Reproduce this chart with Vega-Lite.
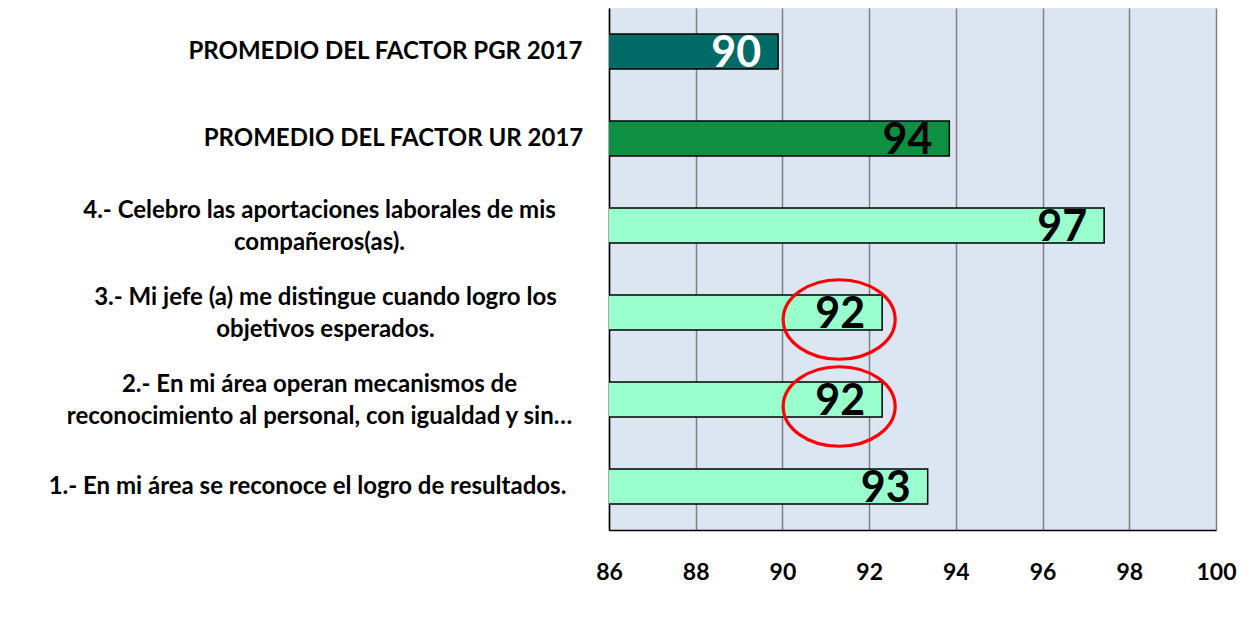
{
  "$schema": "https://vega.github.io/schema/vega-lite/v6.json",
  "width": 607,
  "height": 522,
  "autosize": {"type": "none"},
  "padding": {"left": 609, "top": 8, "right": 31, "bottom": 91},
  "background": "white",
  "config": {"view": {"fill": "#DCE6F2", "stroke": null}, "font": "Lato"},
  "data": {
    "values": [
      {"label": "PROMEDIO DEL FACTOR PGR 2017", "value": 89.9, "group": "PGR"},
      {"label": "PROMEDIO DEL FACTOR UR 2017", "value": 93.85, "group": "UR"},
      {"label": "4.- Celebro las aportaciones laborales de mis|compañeros(as).", "value": 97.42, "group": "Reactivo"},
      {"label": "3.- Mi jefe (a) me distingue cuando logro los|objetivos esperados.", "value": 92.3, "group": "Reactivo"},
      {"label": "2.- En mi área operan mecanismos de|reconocimiento al personal, con igualdad y sin…", "value": 92.3, "group": "Reactivo"},
      {"label": "1.- En mi área se reconoce el logro de resultados.", "value": 93.35, "group": "Reactivo"}
    ]
  },
  "encoding": {
    "y": {
      "field": "label",
      "type": "nominal",
      "sort": null,
      "scale": {"paddingInner": 0.6, "paddingOuter": 0.3},
      "axis": {
        "orient": "left",
        "title": null,
        "domain": true,
        "domainColor": "#000000",
        "domainWidth": 1.5,
        "ticks": false,
        "tickSize": 0,
        "grid": false,
        "labelExpr": "split(datum.label, '|')",
        "labelAlign": "center",
        "labelBaseline": "middle",
        "labelFontSize": 24,
        "labelFontWeight": "bold",
        "labelColor": "#000000",
        "labelLineHeight": 32,
        "labelLimit": 0,
        "labelOffset": {"condition": {"test": "indexof(datum.value,'|')>=0", "value": -15}, "value": 0},
        "labelPadding": {
          "condition": [
            {"test": "indexof(datum.value,'PGR')>=0", "value": 224},
            {"test": "indexof(datum.value,'UR 2017')>=0", "value": 216},
            {"test": "indexof(datum.value,'4.-')==0", "value": 290},
            {"test": "indexof(datum.value,'3.-')==0", "value": 284},
            {"test": "indexof(datum.value,'2.-')==0", "value": 290}
          ],
          "value": 302
        }
      }
    },
    "x": {
      "field": "value",
      "type": "quantitative",
      "scale": {"domain": [86, 100], "nice": false, "zero": false},
      "axis": {
        "orient": "bottom",
        "title": null,
        "values": [86, 88, 90, 92, 94, 96, 98, 100],
        "grid": true,
        "gridColor": "#808080",
        "gridWidth": 1.5,
        "domain": true,
        "domainColor": "#000000",
        "domainWidth": 1.5,
        "ticks": false,
        "labelFontSize": 23,
        "labelFontWeight": "bold",
        "labelColor": "#000000",
        "labelPadding": 31,
        "labelFlush": false,
        "labelBaseline": "top"
      }
    }
  },
  "layer": [
    {
      "mark": {"type": "bar", "stroke": "#000000", "strokeWidth": 1.5, "clip": true},
      "encoding": {
        "color": {
          "field": "group",
          "type": "nominal",
          "legend": null,
          "scale": {"domain": ["PGR", "UR", "Reactivo"], "range": ["#006A66", "#0E9043", "#99FFCC"]}
        }
      }
    },
    {
      "mark": {"type": "text", "align": "right", "baseline": "middle", "dx": -17, "dy": 2, "fontSize": 43, "fontWeight": "bold"},
      "encoding": {
        "text": {"field": "value", "type": "quantitative", "format": ".0f"},
        "color": {"condition": {"test": "datum.group == 'PGR'", "value": "#FFFFFF"}, "value": "#000000"}
      }
    },
    {
      "transform": [{"filter": "indexof(datum.label,'3.-')==0 || indexof(datum.label,'2.-')==0"}],
      "mark": {
        "type": "point",
        "shape": "M-1,0A1,0.71,0,1,1,1,0A1,0.71,0,1,1,-1,0Z",
        "size": 12544,
        "filled": false,
        "stroke": "#FF0000",
        "strokeWidth": 3.2,
        "opacity": 1,
        "xOffset": -43,
        "yOffset": 7
      },
      "encoding": {}
    }
  ]
}
